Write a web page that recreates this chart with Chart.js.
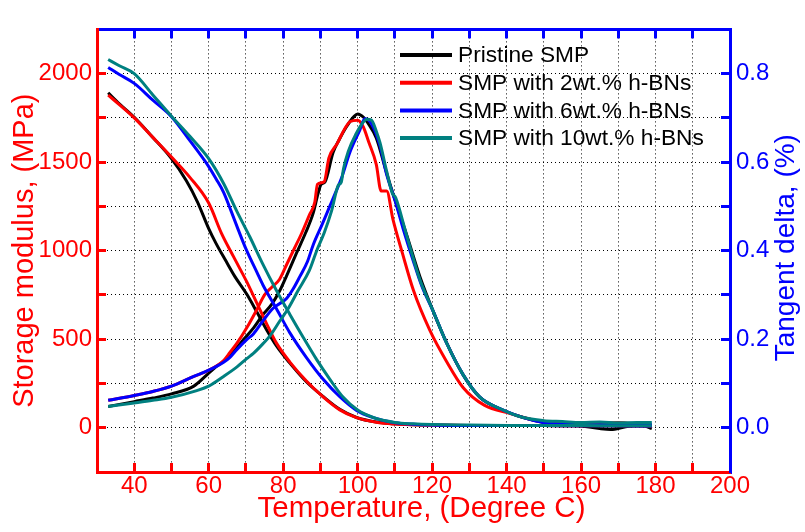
<!DOCTYPE html>
<html><head><meta charset="utf-8">
<script src="https://cdn.jsdelivr.net/npm/chart.js@4.4.0/dist/chart.umd.min.js"></script>
<style>html,body{margin:0;padding:0;background:#fff;}</style>
</head><body>
<canvas id="c" width="805" height="532"></canvas>
<script>
// ---- series names & colours ----
const seriesNames = ['Pristine SMP','SMP with 2wt.% h-BNs','SMP with 6wt.% h-BNs','SMP with 10wt.% h-BNs'];
const seriesColors = ['#000000','#ff0000','#0000ff','#008080'];

// ---- storage modulus (MPa), left axis ----
const pristineModT = [33,36,40,45,50,54,57,60,62,64.4,67,70.2,72.9,75.5,78.2,81.8,86.3,90.8,95.2,99.7,105,110,115,120,130,140,150,160,170,179];
const pristineMod  = [1892,1830,1754,1640,1520,1395,1275,1125,1040,950,855,755,655,555,462,365,258,175,104,58,32,22,17,15,13,12,12,11,11,10];
const twoModT = [33,36,40,45,50,55,60,63.5,66.7,70.2,72.9,75.5,78.2,81.8,86.3,90.8,95.2,99.7,105,110,115,120,130,140,150,160,170,179];
const twoMod  = [1879,1825,1750,1640,1529,1413,1269,1095,965,825,705,590,478,371,263,173,101,57,31,21,17,15,13,12,12,11,11,10];
const sixModT = [33,36,40,45,50,55,60,62,64,66,68,70,72.9,74.6,78.2,81.8,86.3,90.8,95.2,99.7,104.2,110,115,120,130,140,150,160,170,179];
const sixMod  = [2035,1995,1945,1850,1757,1620,1475,1405,1330,1225,1115,1010,880,805,672,536,395,272,175,98,57,28,20,16,13,12,12,11,11,10];
const tenModT = [33,36,40,45,50,55,60,64,67.5,71,74.4,78.2,81.8,85.4,89,92.5,96,100,104.2,110,115,120,130,140,150,160,170,179];
const tenMod  = [2080,2045,2000,1880,1760,1645,1520,1380,1225,1080,930,775,640,510,385,275,175,100,58,30,22,18,15,13,12,12,11,11];

// ---- tangent delta, right axis ----
const pristineTanT = [33,40,45,50,56,59.6,62,64,67,69.3,72,74.6,77,79.1,81,83.6,86,88.1,89.4,90.2,91.2,93.4,95,97,99,100,101.5,103,105,107.8,110,113,116.7,120.3,124,128.3,132.8,139,144.5,150,155,160,165,168,172,176,179];
const pristineTan  = [0.048,0.059,0.067,0.0765,0.094,0.12,0.138,0.15,0.175,0.199,0.225,0.256,0.28,0.31,0.345,0.395,0.44,0.486,0.53,0.55,0.555,0.622,0.65,0.68,0.703,0.709,0.702,0.685,0.655,0.575,0.515,0.44,0.342,0.263,0.19,0.12,0.069,0.04,0.023,0.012,0.006,0.004,-0.002,-0.004,0.002,0.006,-0.002];
const twoTanT = [33,40,45,50,56,60,64,65.7,67.6,70.3,73,75,77,79,81,83,85,87,88.5,89.2,91,92.3,94.5,96.5,98,100,101.5,103,105,106.3,107.8,109.5,112,115,119.4,124,128.3,134,141,148,155,160,165,170,175,179];
const twoTan  = [0.062,0.073,0.082,0.094,0.116,0.130,0.152,0.17,0.191,0.227,0.268,0.30,0.318,0.335,0.37,0.405,0.44,0.48,0.51,0.55,0.556,0.61,0.642,0.675,0.692,0.695,0.68,0.645,0.595,0.535,0.535,0.47,0.395,0.31,0.22,0.148,0.091,0.051,0.032,0.016,0.009,0.008,0.01,0.012,0.008,0.004];
const sixTanT = [33,40,45,50,56,60,64,65.7,67.6,70.2,72,74.6,77.3,79,80.9,82.7,84.5,86.5,88.1,90.5,92.5,94,95.7,97.9,100.6,101.9,103.7,106,107.8,110,112.2,114.9,117.2,120.3,123.9,128.3,132.8,139.1,144.5,149.8,155,160,165,170,175,179];
const sixTan  = [0.062,0.073,0.082,0.094,0.116,0.130,0.148,0.159,0.177,0.199,0.212,0.242,0.27,0.28,0.292,0.314,0.342,0.375,0.414,0.46,0.50,0.53,0.565,0.622,0.673,0.698,0.687,0.637,0.572,0.515,0.45,0.378,0.321,0.263,0.191,0.12,0.069,0.04,0.023,0.012,0.008,0.007,0.007,0.008,0.009,0.008];
const tenTanT = [33,40,45,50,56.8,60,64,67.6,70.2,72,74.6,76.5,79,81.4,84,87,89,91,93,94.8,95.6,96.2,97.5,99.7,101,102.5,103.7,105,106,107.8,109.3,110.2,113.1,116.7,120.3,123.9,128.3,132.8,139.1,144.5,150,155,160,165,170,175,179];
const tenTan  = [0.048,0.056,0.062,0.069,0.084,0.094,0.116,0.1375,0.156,0.168,0.19,0.208,0.24,0.27,0.31,0.355,0.40,0.44,0.49,0.548,0.555,0.585,0.625,0.666,0.685,0.697,0.695,0.67,0.644,0.579,0.53,0.52,0.436,0.335,0.263,0.191,0.12,0.069,0.04,0.023,0.016,0.014,0.012,0.013,0.011,0.012,0.012];

// ---- axes ----
const xMin = 30, xMax = 200, xStep = 10;
const xLabelTicks = [40,60,80,100,120,140,160,180,200];
const yMin = -250, yMax = 2250, yStep = 250;
const yLabelTicks = [0,500,1000,1500,2000];
const y1Min = -0.1, y1Max = 0.9, y1Step = 0.1;
const y1LabelTicks = ['0.0','0.2','0.4','0.6','0.8'];
const xTitle = 'Temperature, (Degree C)';
const yTitle = 'Storage modulus, (MPa)';
const y1Title = 'Tangent delta, (%)';

const FONT = "'Liberation Sans', Arial, sans-serif";
const zip = (xs, ys) => xs.map((x, i) => ({x: x, y: ys[i]}));

const modSets = [[pristineModT,pristineMod],[twoModT,twoMod],[sixModT,sixMod],[tenModT,tenMod]];
const tanSets = [[pristineTanT,pristineTan],[twoTanT,twoTan],[sixTanT,sixTan],[tenTanT,tenTan]];
const datasets = [];
seriesNames.forEach((name, i) => {
  datasets.push({label: name, data: zip(modSets[i][0], modSets[i][1]), yAxisID: 'y', xAxisID: 'x',
    borderColor: seriesColors[i], backgroundColor: seriesColors[i], borderWidth: 3, pointRadius: 0,
    cubicInterpolationMode: 'monotone', fill: false, order: 4 - i});
  datasets.push({label: name + ' (tan δ)', data: zip(tanSets[i][0], tanSets[i][1]), yAxisID: 'y1', xAxisID: 'x',
    borderColor: seriesColors[i], backgroundColor: seriesColors[i], borderWidth: 3, pointRadius: 0,
    cubicInterpolationMode: 'monotone', fill: false, order: 4 - i});
});

const legendPlugin = {
  id: 'innerLegend',
  afterDraw(chart) {
    const ctx = chart.ctx;
    ctx.save();
    ctx.font = '22.7px ' + FONT;
    ctx.textBaseline = 'middle';
    ctx.textAlign = 'left';
    seriesNames.forEach((name, i) => {
      const y = 55 + i * 27.7;
      ctx.strokeStyle = seriesColors[i];
      ctx.lineWidth = 4;
      ctx.beginPath(); ctx.moveTo(400, y); ctx.lineTo(452, y); ctx.stroke();
      ctx.fillStyle = '#000';
      ctx.fillText(name, 458, y + 1);
    });
    ctx.restore();
  }
};
const titlesPlugin = {
  id: 'axisTitles',
  afterDraw(chart) {
    const ctx = chart.ctx, a = chart.chartArea;
    ctx.save();
    ctx.textAlign = 'center';
    ctx.textBaseline = 'middle';
    // bottom title
    ctx.font = '29.5px ' + FONT;
    ctx.fillStyle = '#ff0000';
    ctx.fillText(xTitle, (a.left + a.right) / 2 + 8, 509);
    // right title
    ctx.translate(786, (a.top + a.bottom) / 2 - 3);
    ctx.rotate(-Math.PI / 2);
    ctx.font = '28px ' + FONT;
    ctx.fillStyle = '#0000ff';
    ctx.fillText(y1Title, 0, 0);
    ctx.restore();
  }
};

new Chart(document.getElementById('c'), {
  type: 'line',
  data: { datasets: datasets },
  plugins: [legendPlugin, titlesPlugin],
  options: {
    responsive: false, animation: false, devicePixelRatio: 1,
    layout: { padding: 0 },
    plugins: { legend: { display: false }, tooltip: { enabled: false } },
    scales: {
      x: {
        type: 'linear', position: 'bottom', min: xMin, max: xMax,
        ticks: { stepSize: xStep, autoSkip: false, maxRotation: 0, minRotation: 0, padding: 9,
          color: '#ff0000', font: { family: FONT, size: 24 },
          callback: v => xLabelTicks.includes(Math.round(v)) ? String(Math.round(v)) : '' },
        grid: { color: '#000', lineWidth: 1, tickLength: -9, tickColor: '#ff0000', tickWidth: 3 },
        border: { color: '#ff0000', width: 3, dash: [1, 3] },
        title: { display: false, text: xTitle },
        afterFit: s => { s.height = 60; }
      },
      xTop: {
        type: 'linear', position: 'top', min: xMin, max: xMax,
        ticks: { stepSize: xStep, display: false },
        grid: { drawOnChartArea: false, tickLength: -9, tickColor: '#0000ff', tickWidth: 3 },
        border: { color: '#0000ff', width: 3 },
        afterFit: s => { s.height = 8; }
      },
      y: {
        type: 'linear', position: 'left', min: yMin, max: yMax,
        ticks: { stepSize: yStep, autoSkip: false, padding: 14, color: '#ff0000', font: { family: FONT, size: 24 },
          callback: v => yLabelTicks.includes(Math.round(v)) ? String(Math.round(v)) : '' },
        grid: { color: '#000', lineWidth: 1, tickLength: -9, tickColor: '#ff0000', tickWidth: 3 },
        border: { color: '#ff0000', width: 3, dash: [1, 3] },
        title: { display: true, text: yTitle, color: '#ff0000', font: { family: FONT, size: 29 }, padding: { top: 8, bottom: 0 } },
        afterFit: s => { s.width = 97; }
      },
      y1: {
        type: 'linear', position: 'right', min: y1Min, max: y1Max,
        ticks: { stepSize: y1Step, autoSkip: false, padding: 15, color: '#0000ff', font: { family: FONT, size: 24 },
          callback: v => { const s = (Math.round(v * 10) / 10).toFixed(1); return y1LabelTicks.includes(s) ? s : ''; } },
        grid: { drawOnChartArea: false, tickLength: -9, tickColor: '#0000ff', tickWidth: 3 },
        border: { color: '#0000ff', width: 3 },
        afterFit: s => { s.width = 75; }
      }
    }
  }
});
</script>
</body></html>
